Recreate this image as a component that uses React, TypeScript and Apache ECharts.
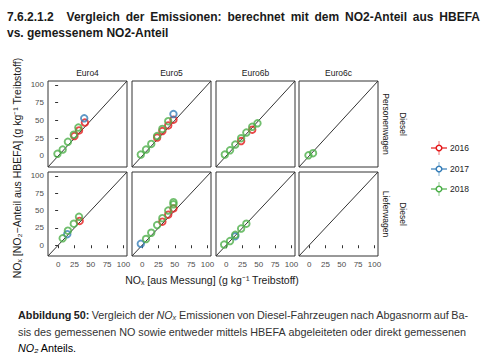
import React, { useEffect, useRef } from "react";
import * as echarts from "echarts";

// ---- data ----
const years = ["2016", "2017", "2018"];
const yearColors = ["#E41A1C", "#377EB8", "#4DAF4A"];
const norms = ["Euro4", "Euro5", "Euro6b", "Euro6c"];
const vehicles = ["Personenwagen", "Lieferwagen"];
const fuel = "Diesel";
const axisRange = [-15.5, 105.5];
const tickValues = [0, 25, 50, 75, 100];

// Personenwagen
const pwEuro4_2016 = [[25, 28], [32, 36], [41, 47]];
const pwEuro4_2017 = [[40, 53]];
const pwEuro4_2018 = [[-1, 3], [7, 9], [15, 20], [24, 30], [31, 40]];
const pwEuro5_2016 = [[23, 26], [31, 35], [40, 43], [48, 51]];
const pwEuro5_2017 = [[48, 59]];
const pwEuro5_2018 = [[-2, 2], [6, 9], [14, 17], [23, 28], [31, 38], [40, 49]];
const pwEuro6b_2016 = [[23, 21], [40, 37]];
const pwEuro6b_2017: number[][] = [];
const pwEuro6b_2018 = [[-2, 2], [6, 8], [14, 16], [23, 25], [31, 33], [40, 41], [48, 46]];
const pwEuro6c_2016: number[][] = [];
const pwEuro6c_2017: number[][] = [];
const pwEuro6c_2018 = [[-1, 1], [6, 4]];
// Lieferwagen
const lwEuro4_2016 = [[33, 35]];
const lwEuro4_2017 = [[14, 16]];
const lwEuro4_2018 = [[7, 10], [15, 21], [24, 31], [32, 41]];
const lwEuro5_2016 = [[31, 34], [40, 44], [48, 53]];
const lwEuro5_2017 = [[-2, 2]];
const lwEuro5_2018 = [[6, 9], [14, 18], [23, 29], [31, 39], [40, 50], [48, 59], [48, 62]];
const lwEuro6b_2016: number[][] = [];
const lwEuro6b_2017 = [[14, 13]];
const lwEuro6b_2018 = [[-3, 1], [6, 6], [14, 15], [23, 24], [31, 31]];
const lwEuro6c_2016: number[][] = [];
const lwEuro6c_2017: number[][] = [];
const lwEuro6c_2018: number[][] = [];

const panelData: number[][][][][] = [
  [
    [pwEuro4_2016, pwEuro4_2017, pwEuro4_2018],
    [pwEuro5_2016, pwEuro5_2017, pwEuro5_2018],
    [pwEuro6b_2016, pwEuro6b_2017, pwEuro6b_2018],
    [pwEuro6c_2016, pwEuro6c_2017, pwEuro6c_2018],
  ],
  [
    [lwEuro4_2016, lwEuro4_2017, lwEuro4_2018],
    [lwEuro5_2016, lwEuro5_2017, lwEuro5_2018],
    [lwEuro6b_2016, lwEuro6b_2017, lwEuro6b_2018],
    [lwEuro6c_2016, lwEuro6c_2017, lwEuro6c_2018],
  ],
];

const titleLine1 = "7.6.2.1.2 Vergleich der Emissionen: berechnet mit dem NO2-Anteil aus HBEFA";
const titleLine2 = "vs. gemessenem NO2-Anteil";
const yTitle = "NOₓ [NO₂−Anteil aus HBEFA] (g kg⁻¹ Treibstoff)";
const xTitle = "NOₓ [aus Messung] (g kg⁻¹ Treibstoff)";

// ---- layout ----
const colLeft = [48, 132, 216, 299];
const colWidth = 79;
const rowTop = [81, 172];
const rowHeight = [86, 84];
const FONT = "'Liberation Sans', Arial, Helvetica, sans-serif";

type Tok = { t: string; w?: string; s?: string; c?: string };

let measureCtx: CanvasRenderingContext2D | null = null;
function measure(text: string, size: number, weight = "normal", style = "normal") {
  if (!measureCtx) measureCtx = document.createElement("canvas").getContext("2d");
  if (!measureCtx) return text.length * size * 0.5;
  measureCtx.font = `${style} ${weight} ${size}px ${FONT}`;
  return measureCtx.measureText(text).width;
}

function justify(tokens: Tok[], x0: number, x1: number, y: number, size: number, gapWeights?: number[]) {
  const widths = tokens.map((k) => measure(k.t, size, k.w || "normal", k.s || "normal"));
  const total = widths.reduce((a, b) => a + b, 0);
  const gw = gapWeights || tokens.slice(1).map(() => 1);
  const wsum = gw.reduce((a, b) => a + b, 0);
  const unit = (x1 - x0 - total) / wsum;
  const out: any[] = [];
  let x = x0;
  tokens.forEach((k, i) => {
    out.push({
      type: "text",
      x,
      y,
      style: {
        text: k.t,
        fontSize: size,
        fontWeight: k.w || "normal",
        fontStyle: k.s || "normal",
        fontFamily: FONT,
        fill: k.c || "#333",
        align: "left",
        verticalAlign: "middle",
      },
    });
    x += widths[i] + (i < gw.length ? gw[i] * unit : 0);
  });
  return out;
}

function plainTokens(s: string, extra: Partial<Tok> = {}): Tok[] {
  return s.split(" ").filter((t) => t.length).map((t) => ({ t, ...extra }));
}

export default function App() {
  const ref = useRef<HTMLDivElement>(null);
  useEffect(() => {
    if (!ref.current) return;
    const chart = echarts.init(ref.current, null, { renderer: "svg" });

    const grid: any[] = [];
    const xAxis: any[] = [];
    const yAxis: any[] = [];
    const series: any[] = [];
    let graphic: any[] = [];

    vehicles.forEach((veh, r) => {
      norms.forEach((norm, c) => {
        const idx = grid.length;
        grid.push({
          left: colLeft[c],
          top: rowTop[r],
          width: colWidth,
          height: rowHeight[r],
          show: true,
          borderColor: "#333",
          borderWidth: 1,
          backgroundColor: "#fff",
          containLabel: false,
        });
        const showX = r === vehicles.length - 1;
        const showY = c === 0;
        const mkAxis = (show: boolean) => ({
          type: "value",
          gridIndex: idx,
          min: axisRange[0],
          max: axisRange[1],
          splitLine: { show: false },
          axisLine: { show: false },
          axisTick: {
            show,
            customValues: tickValues,
            length: 3,
            lineStyle: { color: "#333", width: 1 },
          },
          axisLabel: {
            show,
            customValues: tickValues,
            fontSize: 8,
            color: "#4d4d4d",
            margin: 4,
            fontFamily: FONT,
          },
        });
        xAxis.push(mkAxis(showX));
        yAxis.push(mkAxis(showY));
        series.push({
          type: "line",
          xAxisIndex: idx,
          yAxisIndex: idx,
          data: [
            [axisRange[0], axisRange[0]],
            [axisRange[1], axisRange[1]],
          ],
          symbol: "none",
          silent: true,
          lineStyle: { color: "#333", width: 1 },
          z: 1,
        });
        years.forEach((yr, k) => {
          series.push({
            type: "scatter",
            name: yr,
            xAxisIndex: idx,
            yAxisIndex: idx,
            data: panelData[r][c][k],
            symbol: "circle",
            symbolSize: 6.5,
            itemStyle: {
              color: "rgba(255,255,255,0)",
              borderColor: yearColors[k],
              borderWidth: 1.9,
            },
            z: 2 + k,
          });
        });
        if (r === 0) {
          graphic.push({
            type: "text",
            x: colLeft[c] + colWidth / 2,
            y: 73,
            style: {
              text: norm,
              fontSize: 8.5,
              fontFamily: FONT,
              fill: "#1a1a1a",
              align: "center",
              verticalAlign: "middle",
            },
          });
        }
      });
      const cy = rowTop[r] + rowHeight[r] / 2;
      [veh, fuel].forEach((lab, j) => {
        graphic.push({
          type: "text",
          x: 386 + j * 17,
          y: cy,
          rotation: -Math.PI / 2,
          style: {
            text: lab,
            fontSize: 8.5,
            fontFamily: FONT,
            fill: "#1a1a1a",
            align: "center",
            verticalAlign: "middle",
          },
        });
      });
    });

    // legend
    const legendY = [148, 169, 189];
    years.forEach((yr, k) => {
      const y = legendY[k];
      graphic.push({
        type: "line",
        shape: { x1: 431, y1: y, x2: 447, y2: y },
        style: { stroke: yearColors[k], lineWidth: 1.2 },
      });
      graphic.push({
        type: "line",
        shape: { x1: 439, y1: y - 7, x2: 439, y2: y + 7 },
        style: { stroke: yearColors[k], lineWidth: 1, opacity: 0.6 },
      });
      graphic.push({
        type: "circle",
        shape: { cx: 439, cy: y, r: 2.8 },
        style: { fill: "#fff", stroke: yearColors[k], lineWidth: 1.5 },
      });
      graphic.push({
        type: "text",
        x: 450,
        y,
        style: {
          text: yr,
          fontSize: 8.5,
          fontFamily: FONT,
          fill: "#1a1a1a",
          align: "left",
          verticalAlign: "middle",
        },
      });
    });

    // axis titles
    graphic.push({
      type: "text",
      x: 17,
      y: 168,
      rotation: Math.PI / 2,
      style: {
        text: yTitle,
        fontSize: 10.5,
        fontFamily: FONT,
        fill: "#1a1a1a",
        align: "center",
        verticalAlign: "middle",
      },
    });
    graphic.push({
      type: "text",
      x: 212,
      y: 280,
      style: {
        text: xTitle,
        fontSize: 10.5,
        fontFamily: FONT,
        fill: "#1a1a1a",
        align: "center",
        verticalAlign: "middle",
      },
    });

    // page title (justified first line)
    const t1 = plainTokens(titleLine1, { w: "bold", c: "#1a1a1a" });
    const gw = t1.slice(1).map((_, i) => (i === 0 ? 2.2 : 1));
    graphic = graphic.concat(justify(t1, 7, 480, 17, 12, gw));
    graphic.push({
      type: "text",
      x: 7,
      y: 33,
      style: {
        text: titleLine2,
        fontSize: 12,
        fontWeight: "bold",
        fontFamily: FONT,
        fill: "#1a1a1a",
        align: "left",
        verticalAlign: "middle",
      },
    });

    // caption
    const capSize = 10.8;
    const cap1: Tok[] = [
      { t: "Abbildung", w: "bold", c: "#222" },
      { t: "50:", w: "bold", c: "#222" },
      ...plainTokens("Vergleich der"),
      { t: "NOₓ", s: "italic" },
      ...plainTokens("Emissionen von Diesel-Fahrzeugen nach Abgasnorm auf Ba-"),
    ];
    const cap2 = plainTokens(
      "sis des gemessenen NO sowie entweder mittels HBEFA abgeleiteten oder direkt gemessenen"
    );
    graphic = graphic.concat(justify(cap1, 18, 468, 315, capSize));
    graphic = graphic.concat(justify(cap2, 18, 466, 332, capSize));
    graphic.push({
      type: "text",
      x: 18,
      y: 348,
      style: {
        text: "{i|NO₂}{n| Anteils.}",
        rich: {
          n: { fontSize: capSize, fontFamily: FONT, color: "#333" },
          i: { fontStyle: "italic", fontSize: capSize, fontFamily: FONT, color: "#333" },
        },
        fontSize: capSize,
        fontFamily: FONT,
        align: "left",
        verticalAlign: "middle",
      },
    });

    chart.setOption({
      animation: false,
      backgroundColor: "#fff",
      grid,
      xAxis,
      yAxis,
      series,
      graphic,
    });
    return () => chart.dispose();
  }, []);

  return (
    <div
      ref={ref}
      style={{ position: "absolute", left: 0, top: 0, width: 500, height: 362 }}
    />
  );
}
